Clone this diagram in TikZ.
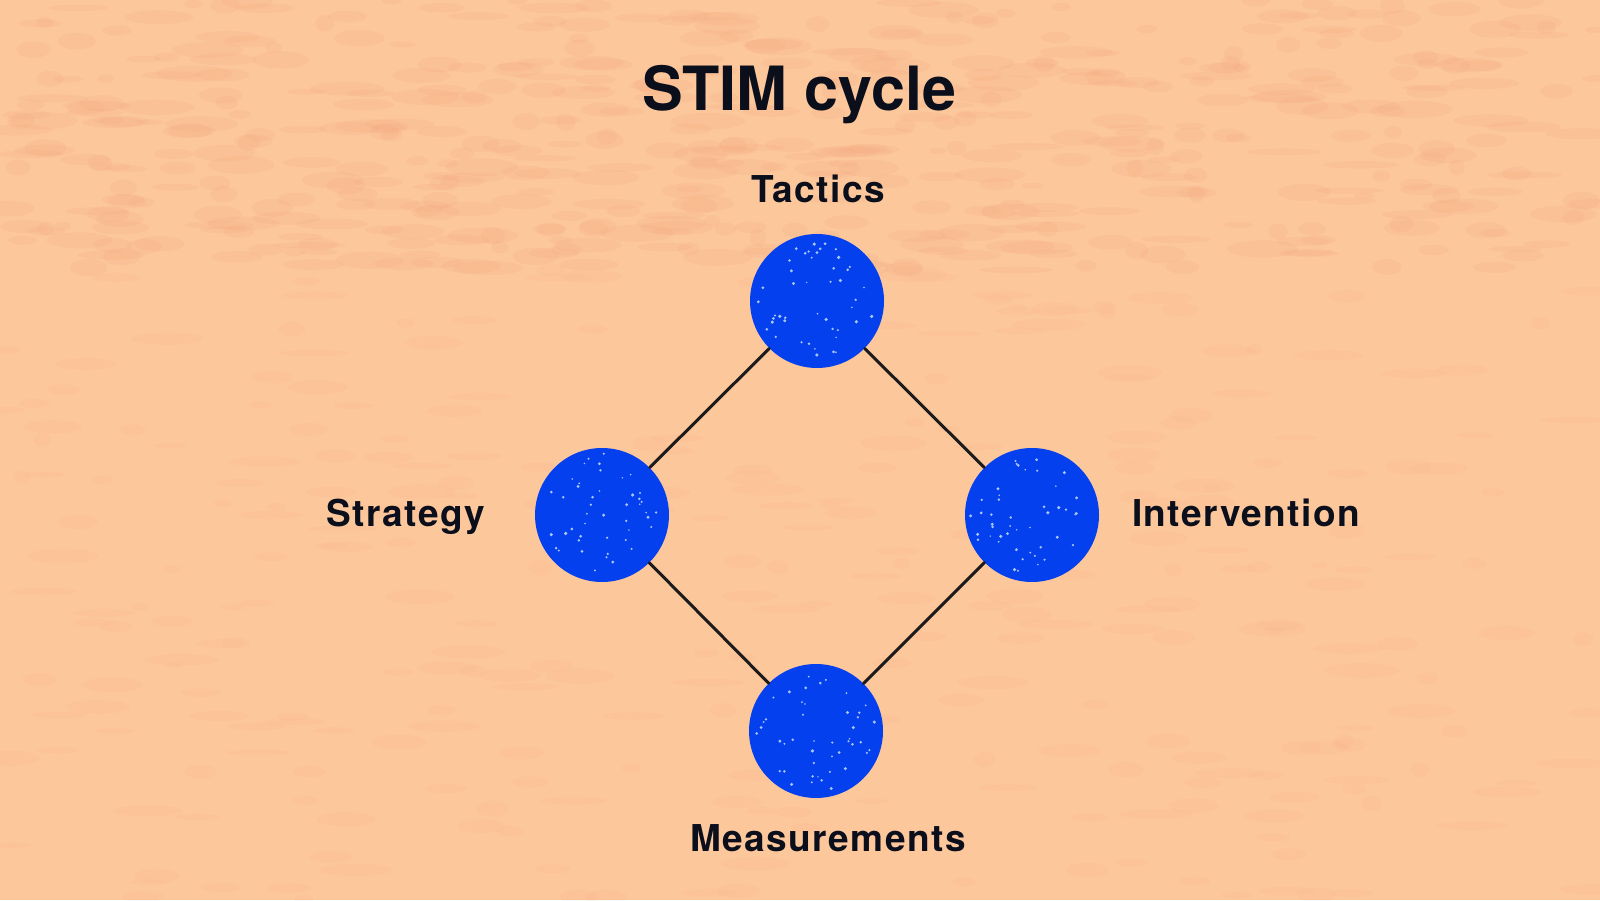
\documentclass[tikz,border=0pt]{standalone}
\usepackage{fontspec}
\setmainfont{TeX Gyre Heros}
\newfontfamily\labelfont[LetterSpace=4]{TeX Gyre Heros}
\definecolor{bgpeach}{HTML}{FDC79C}
\definecolor{bgdark}{HTML}{F2A078}
\definecolor{dotblue}{HTML}{0540EE}
\definecolor{speck}{HTML}{A8C6FF}
\definecolor{ink}{HTML}{0B0F1C}
\definecolor{linec}{HTML}{1C1A1A}
\tikzset{
  stage/.style={circle, fill=dotblue, minimum size=134pt, inner sep=0pt},
  lbl/.style={font=\labelfont\bfseries\fontsize{37}{42}\selectfont, text=ink, anchor=base, inner sep=0pt},
  ttl/.style={font=\bfseries\fontsize{61}{70}\selectfont, text=ink, anchor=base, inner sep=0pt},
  link/.style={draw=linec, line width=3pt, line cap=round},
  blot/.style={fill=bgdark, fill opacity=0.14}
}
\begin{document}
\begin{tikzpicture}[x=1pt,y=1pt]
  \useasboundingbox (0,0) rectangle (1600,900);
  \fill[bgpeach] (0,0) rectangle (1600,900);
  % background texture
  \pgfmathsetseed{7}
  \foreach \i in {1,...,500} {
    \fill[blot] ({1600*rnd},{630+270*rnd}) ellipse ({8+30*rnd} and {3+6*rnd});
  }
  \foreach \i in {1,...,300} {
    \fill[blot, fill opacity=0.08] ({1600*rnd},{630*rnd}) ellipse ({8+30*rnd} and {3+5*rnd});
  }
  % title
  \node[ttl] (title) at (799,789) {STIM cycle};
  % stages
  \node[stage] (t) at (817,599) {};
  \node[stage] (s) at (602,385) {};
  \node[stage] (i) at (1032,385) {};
  \node[stage] (m) at (816,169) {};
  % speckles
  \foreach \c in {t,s,i,m} {
    \foreach \k in {1,...,45} {
      \fill[speck] (\c) ++ ({360*rnd}:{62*sqrt(rnd)}) circle ({0.8+1.0*rnd});
    }
  }
  % connectors
  \draw[link] (t) -- (s);
  \draw[link] (t) -- (i);
  \draw[link] (s) -- (m);
  \draw[link] (i) -- (m);
  % labels
  \node[lbl] (lt) at (818,697) {Tactics};
  \node[lbl] (ls) at (406,373) {Strategy};
  \node[lbl] (li) at (1246,373) {Intervention};
  \node[lbl] (lm) at (828,49) {Measurements};
\end{tikzpicture}
\end{document}
